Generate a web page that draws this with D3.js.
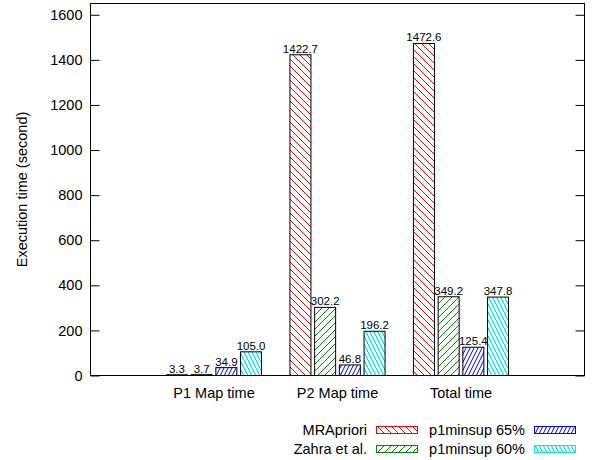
<!DOCTYPE html>
<html>
<head>
<meta charset="utf-8">
<script src="https://cdn.jsdelivr.net/npm/d3@7"></script>
<style>
  body { margin: 0; background: #fff; }
  text { font-family: "Liberation Sans", Arial, sans-serif; }
</style>
</head>
<body>
<svg id="chart" width="600" height="460"></svg>
<script>
// Chart data
var categories = ["P1 Map time", "P2 Map time", "Total time"];
var seriesNames = ["MRApriori", "Zahra et al.", "p1minsup 65%", "p1minsup 60%"];
var mrApriori = [3.3, 1422.7, 1472.6];
var zahra = [3.7, 302.2, 349.2];
var minsup65 = [34.9, 46.8, 125.4];
var minsup60 = [105.0, 196.2, 347.8];
var yTicks = [0, 200, 400, 600, 800, 1000, 1200, 1400, 1600];

var seriesValues = [mrApriori, zahra, minsup65, minsup60];
var colors = ["#ff0000", "#008a00", "#0000ff", "#00e5ee"];
var patternIds = ["pRed", "pGreen", "pBlue", "pCyan"];

var svg = d3.select("#chart");

// Plot area
var plotLeft = 90.5, plotRight = 584.5, plotTop = 3.5, plotBottom = 375.5;

var x = d3.scaleLinear().domain([-1, 3]).range([plotLeft, plotRight]);
var y = d3.scaleLinear().domain([0, 1650]).range([plotBottom, plotTop]);

// Hatch patterns (gnuplot style)
var defs = svg.append("defs");
function hatch(id, color, w, h, dir) {
    var p = defs.append("pattern")
        .attr("id", id)
        .attr("patternUnits", "userSpaceOnUse")
        .attr("width", w)
        .attr("height", h);
    p.append("rect").attr("width", w).attr("height", h).attr("fill", "#fff");
    var lines = dir === "back"
        ? [[-w, -h, w, h], [0, 0, 2 * w, 2 * h], [-w, 0, w, 2 * h], [0, -h, 2 * w, h]]
        : [[0, h, w, 0], [-w, h, 0, 0], [w, h, 2 * w, 0]];
    lines.forEach(function (l) {
        p.append("line")
            .attr("x1", l[0]).attr("y1", l[1])
            .attr("x2", l[2]).attr("y2", l[3])
            .attr("stroke", color)
            .attr("stroke-width", 1);
    });
}
hatch("pRed", colors[0], 7, 7, "back");
hatch("pGreen", colors[1], 7, 7, "fwd");
hatch("pBlue", colors[2], 4, 8, "fwd");
hatch("pCyan", colors[3], 4, 8, "back");

// Y axis (ticks inward)
svg.append("g")
    .attr("transform", "translate(" + plotLeft + ",0)")
    .call(d3.axisLeft(y).tickValues(yTicks).tickSize(-9).tickPadding(8).tickFormat(d3.format("d")))
    .call(function (g) { g.select(".domain").remove(); })
    .call(function (g) {
        g.selectAll("text")
            .attr("font-size", "14.5px")
            .attr("font-family", "Liberation Sans, Arial, sans-serif")
            .attr("fill", "#000");
    });

svg.append("g")
    .attr("transform", "translate(" + plotRight + ",0)")
    .call(d3.axisRight(y).tickValues(yTicks).tickSize(-9).tickFormat(""))
    .call(function (g) { g.select(".domain").remove(); });

// Y axis label
svg.append("text")
    .attr("transform", "translate(27," + ((plotTop + plotBottom) / 2) + ") rotate(-90)")
    .attr("text-anchor", "middle")
    .attr("font-size", "14.5px")
    .text("Execution time (second)");

// Bars
var slot = 0.2, barW = 0.17;
seriesValues.forEach(function (vals, s) {
    var g = svg.append("g");
    g.selectAll("rect")
        .data(vals)
        .enter().append("rect")
        .attr("x", function (d, i) { return x(i + (s - 1.5) * slot - barW / 2); })
        .attr("y", function (d) { return y(d); })
        .attr("width", x(barW) - x(0))
        .attr("height", function (d) { return y(0) - y(d); })
        .attr("fill", "url(#" + patternIds[s] + ")")
        .attr("stroke", "#000")
        .attr("stroke-width", 1);

    g.selectAll("text")
        .data(vals)
        .enter().append("text")
        .attr("x", function (d, i) { return x(i + (s - 1.5) * slot); })
        .attr("y", function (d) { return y(d) - 2; })
        .attr("text-anchor", "middle")
        .attr("font-size", "11.5px")
        .text(function (d) { return d.toFixed(1); });
});

// Frame
svg.append("rect")
    .attr("x", plotLeft).attr("y", plotTop)
    .attr("width", plotRight - plotLeft).attr("height", plotBottom - plotTop)
    .attr("fill", "none")
    .attr("stroke", "#000")
    .attr("stroke-width", 1);

// Category labels
svg.selectAll(".cat")
    .data(categories)
    .enter().append("text")
    .attr("class", "cat")
    .attr("x", function (d, i) { return x(i); })
    .attr("y", 398)
    .attr("text-anchor", "middle")
    .attr("font-size", "14.5px")
    .text(function (d) { return d; });

// Legend: two columns, two rows
var legend = svg.selectAll(".legend")
    .data(seriesNames)
    .enter().append("g")
    .attr("class", "legend")
    .attr("transform", function (d, i) {
        var col = Math.floor(i / 2), row = i % 2;
        return "translate(" + (367 + col * 158) + "," + (430 + row * 19) + ")";
    });

legend.append("text")
    .attr("x", 0)
    .attr("y", 5)
    .attr("text-anchor", "end")
    .attr("font-size", "14.5px")
    .text(function (d) { return d; });

legend.append("rect")
    .attr("x", 9.5)
    .attr("y", -3.5)
    .attr("width", 41)
    .attr("height", 7)
    .attr("fill", function (d, i) { return "url(#" + patternIds[i] + ")"; })
    .attr("stroke", function (d, i) { return colors[i]; })
    .attr("stroke-width", 1);
</script>
</body>
</html>
